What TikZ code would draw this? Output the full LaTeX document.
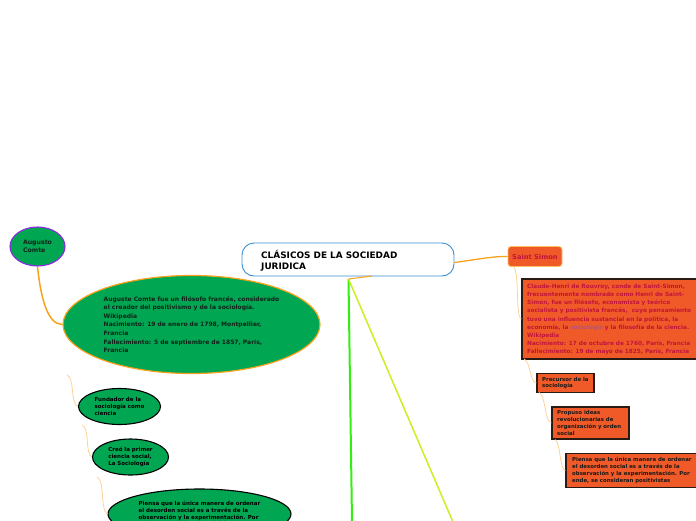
\documentclass[tikz,border=0pt]{standalone}
\usepackage{fontspec}
\setmainfont{DejaVu Sans}
\usetikzlibrary{shapes.geometric}
\definecolor{mgreen}{HTML}{00A651}
\definecolor{mred}{HTML}{F05A28}
\definecolor{mcrim}{HTML}{C0143C}
\definecolor{mlink}{HTML}{B5547A}
\definecolor{mblue}{HTML}{3A8FD0}
\definecolor{morange}{HTML}{F7A21D}
\definecolor{mwave}{HTML}{FDD29A}
\definecolor{mpurple}{HTML}{8A2BE2}
\definecolor{mlime}{HTML}{33EE11}
\definecolor{myell}{HTML}{CCEE22}
\definecolor{mdark}{HTML}{10241A}
\definecolor{mbox}{HTML}{2A1A14}
\begin{document}
\begin{tikzpicture}[x=1pt,y=-1pt,
  gell/.style={ellipse, fill=mgreen, inner sep=0pt, align=left, text=mdark},
  rbox/.style={rectangle, fill=mred, draw=mbox, line width=1.4pt, inner sep=0pt},
  txt/.style={anchor=west, inner sep=0pt, align=left, font=\bfseries\fontsize{5.75}{8.2}\selectfont},
  stxt/.style={anchor=west, inner sep=0pt, align=left, font=\bfseries\fontsize{5.4}{6.9}\selectfont, text=black!90},
  wave/.style={draw=mwave, line width=0.8pt},
  oline/.style={draw=morange, line width=1.3pt}]
\useasboundingbox (0,0) rectangle (696,520);
\clip (0,0) rectangle (696,520);
% central node
\node[rectangle, rounded corners=12pt, draw=mblue, line width=0.9pt, fill=white,
      minimum width=212pt, minimum height=33pt, inner sep=0pt] (root) at (348,259.5) {};
\node[txt, font=\bfseries\fontsize{8.9}{11}\selectfont, text=black] (roott) at (261,260.5) {CLÁSICOS DE LA SOCIEDAD\\JURIDICA};
% left: Augusto Comte
\node[gell, draw=mpurple, line width=1.1pt, minimum width=55pt, minimum height=39pt,
      font=\bfseries\fontsize{6.2}{8.5}\selectfont] (ac) at (37.5,246.5) {Augusto\\Comte};
\node[gell, draw=morange, line width=1.2pt, minimum width=257pt, minimum height=98pt,
      font=\bfseries\fontsize{6}{8.6}\selectfont] (big) at (191.5,324.5)
  {Auguste Comte fue un filósofo francés, considerado\\
   el creador del positivismo y de la sociología.\\
   Wikipedia\\
   Nacimiento: 19 de enero de 1798, Montpellier,\\
   Francia\\
   Fallecimiento: 5 de septiembre de 1857, París,\\
   Francia};
\node[gell, draw=black, line width=1.1pt, minimum width=82pt, minimum height=36pt,
      font=\bfseries\fontsize{5.5}{6.9}\selectfont, text=black] (e1) at (119.5,406.5)
  {Fundador de la\\sociología como\\ciencia};
\node[gell, draw=black, line width=1.1pt, minimum width=76pt, minimum height=36pt,
      font=\bfseries\fontsize{5.5}{6.9}\selectfont, text=black] (e2) at (130.5,457)
  {Creó la primer\\ciencia social,\\La Sociología};
\node[gell, draw=black, line width=1.1pt, minimum width=183pt, minimum height=50pt,
      font=\bfseries\fontsize{5.5}{6.9}\selectfont, text=black] (e3) at (199.5,514)
  {Piensa que la única manera de ordenar\\
   el desorden social es a través de la\\
   observación y la experimentación. Por\\
   ende, se consideran positivistas};
% right: Saint Simon
\node[rectangle, rounded corners=3pt, fill=mred, draw=morange!70, line width=0.9pt,
      minimum width=54pt, minimum height=20pt, inner sep=0pt] (ss) at (535,256.5) {};
\node[txt, font=\bfseries\fontsize{6.7}{8}\selectfont, text=mcrim] (sst) at (512,256.5) {Saint Simon};
\node[rbox, minimum width=178pt, minimum height=80pt] (desc) at (611,319) {};
\node[txt, text=mcrim] (desct) at (527,319.5)
  {Claude-Henri de Rouvroy, conde de Saint-Simon,\\
   frecuentemente nombrado como Henri de Saint-\\
   Simon, fue un filósofo, economista y teórico\\
   socialista y positivista francés,~ cuyo pensamiento\\
   tuvo una influencia sustancial en la política, la\\
   economía, la \textcolor{mlink}{sociología} y la filosofía de la ciencia.\\
   Wikipedia\\
   Nacimiento: 17 de octubre de 1760, París, Francia\\
   Fallecimiento: 19 de mayo de 1825, París, Francia};
\node[rbox, minimum width=57pt, minimum height=19pt] (prec) at (565.5,383) {};
\node[stxt] (prect) at (542,383) {Precursor de la\\sociología};
\node[rbox, minimum width=77pt, minimum height=32pt] (prop) at (590.5,423) {};
\node[stxt] (propt) at (557,423) {Propuso ideas\\revolucionarias de\\organización y orden\\social};
\node[rbox, minimum width=132pt, minimum height=34pt] (pien) at (632,470.5) {};
\node[stxt] (pient) at (572,470.5) {Piensa que la única manera de ordenar\\el desorden social es a través de la\\observación y la experimentación. Por\\ende, se consideran positivistas};
% coordinates
\coordinate (hub) at (348.5,279);
\coordinate (gEnd) at (352,522);
\coordinate (yEnd) at (453,522);
\coordinate (oEnd) at (372,276);
\coordinate (w1) at (67,375);
\coordinate (w2) at (82,425);
\coordinate (w3) at (97,477);
\coordinate (r1) at (513,266.5);
\coordinate (r2) at (524,359);
\coordinate (r3) at (539,392.5);
\coordinate (r4) at (555,439.5);
% connectors
\draw[oline] ([yshift=-3pt]root.east) .. controls (480,259) and (495,256) .. (ss.west);
\draw[draw=morange, line width=1.5pt] (ac.south) .. controls (41,300) and (48,324.5) .. (big.west);
\draw[draw=mlime, line width=2pt] (hub) -- (gEnd);
\draw[draw=myell, line width=1.5pt] (hub) -- (yEnd);
\draw[oline, line width=1pt] (hub) -- (oEnd);
\draw[wave] (w1) .. controls (75,378) and (70,404) .. (e1.west);
\draw[wave] (w2) .. controls (90,428) and (85,455) .. (e2.west);
\draw[wave] (w3) .. controls (105,480) and (100,510) .. (e3.west);
\draw[wave] (r1) .. controls (520,270) and (515,317) .. (desc.west);
\draw[wave] (r2) .. controls (531,362) and (529,381) .. (prec.west);
\draw[wave] (r3) .. controls (546,395) and (544,421) .. (prop.west);
\draw[wave] (r4) .. controls (561,443) and (559,468) .. (pien.west);
\end{tikzpicture}
\end{document}
